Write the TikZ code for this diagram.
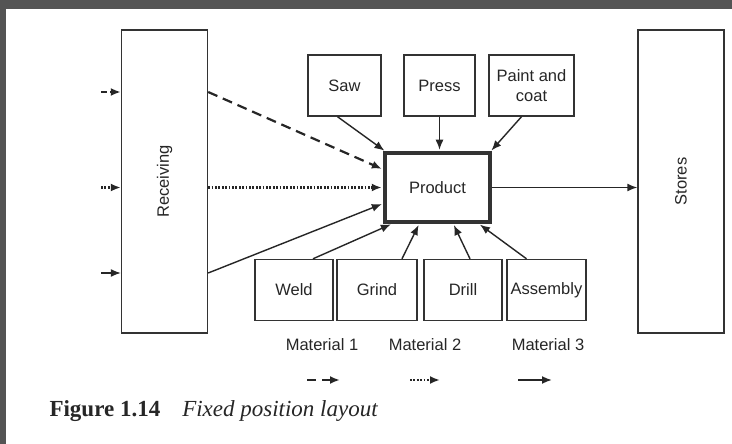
\documentclass[tikz,border=0pt]{standalone}
\usepackage{fontspec}
\setmainfont{Liberation Serif}
\newfontfamily\diagfont{Liberation Sans}
\usetikzlibrary{arrows.meta}

\begin{document}
\begin{tikzpicture}[x=1pt, y=-1pt,
        box/.style = {draw=black!80, line width=1.4pt, inner sep=0pt, minimum height=61pt,
                      font=\diagfont\fontsize{16.5}{20}\selectfont, text=black!85, align=center},
        tall/.style = {box, minimum width=86pt, minimum height=303pt},
        prod/.style = {box, line width=3.5pt, minimum width=105pt, minimum height=69pt},
        lbl/.style = {font=\diagfont\fontsize{16.5}{18}\selectfont, text=black!85},
        flow/.style = {-{Latex[length=10pt,width=8pt]}, draw=black!85, line width=1.4pt},
        mat1/.style = {flow, line width=2.2pt, dash pattern=on 10pt off 6pt},
        mat2/.style = {flow, line width=2.2pt, dash pattern=on 1.8pt off 1.6pt}]
    % frame of the scan
    \fill[black!67] (0,0) rectangle (732,444);
    \fill[white] (6,9) rectangle (732,444);
    \useasboundingbox (0,0) rectangle (732,444);

    \node[tall] (R) at (164.5,181.5) {};
    \node[rotate=90, lbl] at (R.center) {Receiving};
    \node[tall] (S) at (681,181.5) {};
    \node[rotate=90, lbl] at (S.center) {Stores};

    \node[prod] (P) at (437.5,187.5) {Product};

    \node[box, minimum width=73pt] (saw) at (344.5,85.5) {Saw};
    \node[box, minimum width=71pt] (press) at (439.5,85.5) {Press};
    \node[box, minimum width=85pt] (paint) at (531.5,85.5) {Paint and\\coat};

    \node[box, minimum width=78pt] (weld) at (294,290) {Weld};
    \node[box, minimum width=80pt] (grind) at (377,290) {Grind};
    \node[box, minimum width=78pt] (drill) at (463,290) {Drill};
    \node[box, minimum width=79pt] (assy) at (546.5,290) {Assembly};

    % incoming material
    \coordinate (in1) at (101,92);
    \coordinate (in2) at (101,187.5);
    \coordinate (in3) at (101,273);
    \draw[mat1, dash pattern=on 6pt off 3pt] (in1) -- (R.west |- in1);
    \draw[mat2] (in2) -- (R.west |- in2);
    \draw[flow] (in3) -- (R.west |- in3);

    \draw[mat1, shorten >=1.5pt] (R.east |- in1) -- ([yshift=18pt]P.west);
    \draw[mat2, shorten >=1.5pt] (R.east |- P.west) -- (P.west);
    \draw[flow, shorten >=1.5pt] (R.east |- in3) -- ([yshift=-16pt]P.west);

    \draw[flow, shorten >=1pt] ([xshift=-7pt]saw.south) -- ([xshift=2pt]P.north west);
    \draw[flow, shorten >=1.5pt] (press.south) -- (press.south |- P.north);
    \draw[flow, shorten >=1pt] ([xshift=-10pt]paint.south) -- ([xshift=-1pt]P.north east);

    \draw[flow, shorten >=1.5pt] ([xshift=19pt]weld.north) -- ([xshift=9pt]P.south west);
    \draw[flow, shorten >=1.5pt] ([xshift=25pt]grind.north) -- ([xshift=36pt]P.south west);
    \draw[flow, shorten >=1.5pt] ([xshift=7pt]drill.north) -- ([xshift=70pt]P.south west);
    \draw[flow, shorten >=1.5pt] ([xshift=-20pt]assy.north) -- ([xshift=-13pt]P.south east);

    \draw[flow] (P.east) -- (P.east -| S.west);

    % key
    \node[lbl] (m1) at (322,345) {Material 1};
    \node[lbl] (m2) at (425,345) {Material 2};
    \node[lbl] (m3) at (548,345) {Material 3};
    \coordinate (k1) at (307,380);
    \coordinate (k2) at (410,380);
    \coordinate (k3) at (518,380);
    \draw[mat1, dash pattern=on 9pt off 6pt] (k1) -- ++(33,0);
    \draw[mat2] (k2) -- ++(30,0);
    \draw[flow, line width=1.8pt] (k3) -- ++(34,0);

    \node[anchor=west, font=\fontsize{23}{26}\selectfont, text=black!85] (cap) at (46,411)
        {\textbf{Figure 1.14}\hspace{22pt}\textit{Fixed position layout}};
\end{tikzpicture}
\end{document}
